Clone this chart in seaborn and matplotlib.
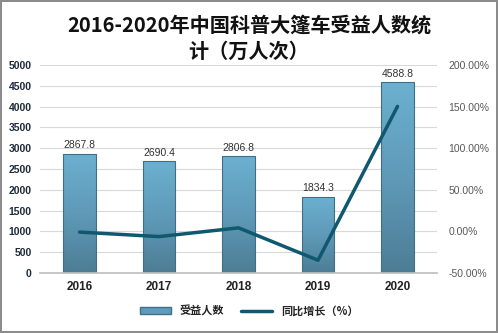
import matplotlib
matplotlib.use("Agg")
import matplotlib.pyplot as plt
import seaborn as sns
import pandas as pd
import numpy as np
from matplotlib.colors import LinearSegmentedColormap

years = ["2016", "2017", "2018", "2019", "2020"]
beneficiaries = [2867.8, 2690.4, 2806.8, 1834.3, 4588.8]
growth = [-0.8, -6.2, 4.3, -34.6, 150.2]
left_ticks = [0, 500, 1000, 1500, 2000, 2500, 3000, 3500, 4000, 4500, 5000]
right_ticks = [-50, 0, 50, 100, 150, 200]

sns.set_theme(style="white")
plt.rcParams['font.family'] = ['Liberation Sans', 'Noto Sans CJK SC', 'DejaVu Sans']

df = pd.DataFrame({"year": years, "value": beneficiaries, "growth": growth})

fig = plt.figure(figsize=(4.98, 3.33), dpi=100)
fig.patch.set_edgecolor("#8c8c8c")
fig.patch.set_linewidth(1.5)
ax = fig.add_axes([0.08, 0.18, 0.798, 0.625])

sns.barplot(data=df, x="year", y="value", ax=ax, color="#5d9dbc",
            edgecolor="#3f6f86", linewidth=0.8, width=0.41, saturation=1)

cmap = LinearSegmentedColormap.from_list("g", ["#4d7d95", "#5f9ab8", "#6cb0d0"])
grad = np.linspace(0, 1, 256).reshape(-1, 1)
for p in list(ax.patches):
    x0, y0 = p.get_x(), p.get_y()
    w, h = p.get_width(), p.get_height()
    im = ax.imshow(grad, cmap=cmap, origin="lower", aspect="auto",
                   extent=[x0, x0 + w, y0, y0 + h], zorder=p.get_zorder() + 0.1)
    im.set_clip_path(p)
    p.set_facecolor("none")
    p.set_zorder(p.get_zorder() + 0.2)

ax.set_ylim(0, 5000)
ax.set_xlim(-0.5, 4.5)
ax.set_yticks(left_ticks)
ax.set_yticklabels([str(t) for t in left_ticks], fontsize=7.5, fontweight="bold", color="#1f2a3a")
ax.set_xlabel("")
ax.set_ylabel("")
ax.set_xticks(range(len(years)))
ax.set_xticklabels(years, fontsize=8.5, fontweight="bold", color="#222222")
ax.grid(axis="y", color="#d9d9d9", linewidth=0.8)
ax.set_axisbelow(True)
for s in ["top", "right", "left"]:
    ax.spines[s].set_visible(False)
ax.spines["bottom"].set_color("#bfbfbf")
ax.tick_params(axis="both", length=0, pad=6)

for i, v in enumerate(beneficiaries):
    ax.text(i, v + 80, f"{v:.1f}", ha="center", va="bottom", fontsize=7.5, color="#333333", zorder=5)

ax2 = ax.twinx()
sns.lineplot(x=np.arange(len(years)), y=growth, ax=ax2, color="#0f5870", linewidth=2.5)
ax2.set_ylim(-50, 200)
ax2.set_xlim(-0.5, 4.5)
ax2.set_yticks(right_ticks)
ax2.set_yticklabels([f"{t:.2f}%" for t in right_ticks], fontsize=7.5, color="#595959")
ax2.tick_params(axis="y", length=0, pad=8)
for s in ["top", "right", "left", "bottom"]:
    ax2.spines[s].set_visible(False)

fig.suptitle("2016-2020年中国科普大篷车受益人数统\n计（万人次）", x=0.5, y=0.955,
             fontsize=14.5, fontweight="bold", color="#111111", linespacing=1.3,
             family=['Noto Sans CJK SC', 'DejaVu Sans'])

from matplotlib.patches import Patch
from matplotlib.lines import Line2D
handles = [Patch(facecolor="#5d9dbc", edgecolor="#3f6f86", label="受益人数"),
           Line2D([0], [0], color="#0f5870", linewidth=2.5, label="同比增长（%）")]
fig.legend(handles=handles, loc="center", bbox_to_anchor=(0.5, 0.065), ncol=2,
           frameon=False, handlelength=2.8, handleheight=0.6, columnspacing=1.5,
           prop={"family": ['Noto Sans CJK SC', 'DejaVu Sans'], "size": 8, "weight": "bold"})

fig.savefig("out.png", dpi=100)
